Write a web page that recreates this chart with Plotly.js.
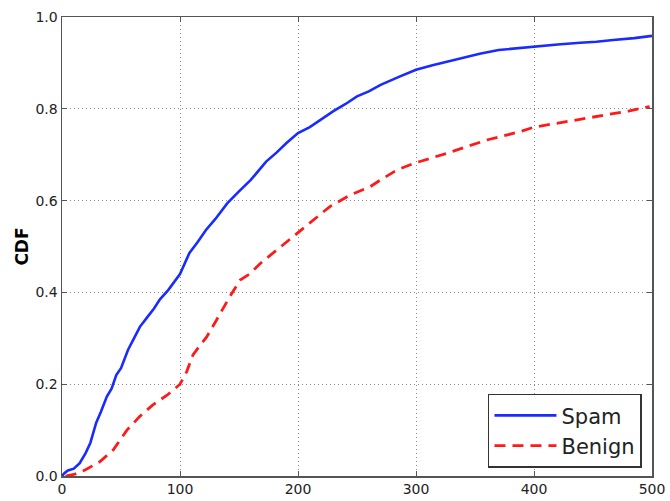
<!DOCTYPE html>
<html>
<head>
<meta charset="utf-8">
<script src="https://cdn.plot.ly/plotly-3.0.1.min.js"></script>
<style>html,body{margin:0;padding:0;background:#fff;}#chart{width:670px;height:501px;}</style>
</head>
<body>
<div id="chart"></div>
<script>
const spamX = [0, 2, 5, 10, 15, 20, 24, 29, 33, 38, 42, 46, 50, 56, 61, 66, 72, 78, 83, 90, 100, 108, 115, 122, 130, 140, 150, 160, 173, 182, 190, 200, 210, 221, 230, 240, 250, 260, 270, 286, 300, 314, 326, 340, 354, 370, 385, 400, 420, 439, 453, 467, 485, 500];
const spamY = [0, 0.006, 0.012, 0.016, 0.028, 0.05, 0.072, 0.116, 0.14, 0.173, 0.19, 0.22, 0.235, 0.275, 0.3, 0.325, 0.345, 0.365, 0.385, 0.405, 0.44, 0.486, 0.51, 0.536, 0.56, 0.594, 0.62, 0.645, 0.685, 0.705, 0.725, 0.747, 0.76, 0.779, 0.795, 0.81, 0.827, 0.838, 0.852, 0.87, 0.885, 0.895, 0.903, 0.912, 0.92, 0.928, 0.932, 0.935, 0.94, 0.944, 0.946, 0.95, 0.954, 0.959];
const benignX = [3, 11, 19.5, 32, 43.5, 55, 66, 77, 89, 96, 100, 105.6, 111, 117, 122.6, 131, 142, 151, 159, 168, 182, 199, 210, 227, 244, 261, 270, 284, 298, 326, 360, 388, 400, 428, 462, 480, 498];
const benignY = [0, 0.004, 0.013, 0.031, 0.057, 0.1, 0.13, 0.155, 0.176, 0.19, 0.2, 0.227, 0.264, 0.285, 0.303, 0.34, 0.39, 0.427, 0.44, 0.463, 0.492, 0.529, 0.55, 0.587, 0.612, 0.63, 0.645, 0.667, 0.681, 0.703, 0.732, 0.75, 0.76, 0.772, 0.786, 0.795, 0.805];
const seriesNames = ["Spam", "Benign"];
const xTicks = [0, 100, 200, 300, 400, 500];
const yTicks = [0.0, 0.2, 0.4, 0.6, 0.8, 1.0];
const yTickText = ["0.0", "0.2", "0.4", "0.6", "0.8", "1.0"];
const yTitle = "CDF";

const traces = [
  {x: spamX, y: spamY, name: seriesNames[0], type: 'scatter', mode: 'lines',
   line: {color: '#1a2bff', width: 2.6}},
  {x: benignX, y: benignY, name: seriesNames[1], type: 'scatter', mode: 'lines',
   line: {color: '#ff1a1a', width: 2.8, dash: '11px,7px'}}
];

const axisCommon = {
  showline: true, linecolor: '#555', linewidth: 1.5, mirror: 'ticks',
  ticks: 'inside', ticklen: 5, tickcolor: '#555', tickwidth: 1,
  showgrid: true, gridcolor: '#8a8a8a', gridwidth: 1, griddash: '1px,3px',
  zeroline: false,
  tickfont: {family: 'DejaVu Sans', size: 14, color: '#222'}
};

const layout = {
  width: 670, height: 501,
  margin: {l: 62, r: 18, t: 17, b: 25},
  paper_bgcolor: '#fff', plot_bgcolor: '#fff',
  showlegend: true,
  xaxis: Object.assign({}, axisCommon, {
    range: [0, 500], tickvals: xTicks, ticktext: xTicks.map(String)
  }),
  yaxis: Object.assign({}, axisCommon, {
    range: [0, 1], tickvals: yTicks, ticktext: yTickText,
    title: {text: yTitle, font: {family: 'DejaVu Sans', size: 17, color: '#000', weight: 'bold'}, standoff: 2}
  }),
  legend: {
    x: 0.983, y: 0.018, xanchor: 'right', yanchor: 'bottom',
    bgcolor: '#fff', bordercolor: '#333', borderwidth: 1.5,
    font: {family: 'DejaVu Sans', size: 21, color: '#222'},
    itemwidth: 62, tracegroupgap: 0
  }
};

Plotly.newPlot('chart', traces, layout, {displayModeBar: false, staticPlot: true});
</script>
</body>
</html>
